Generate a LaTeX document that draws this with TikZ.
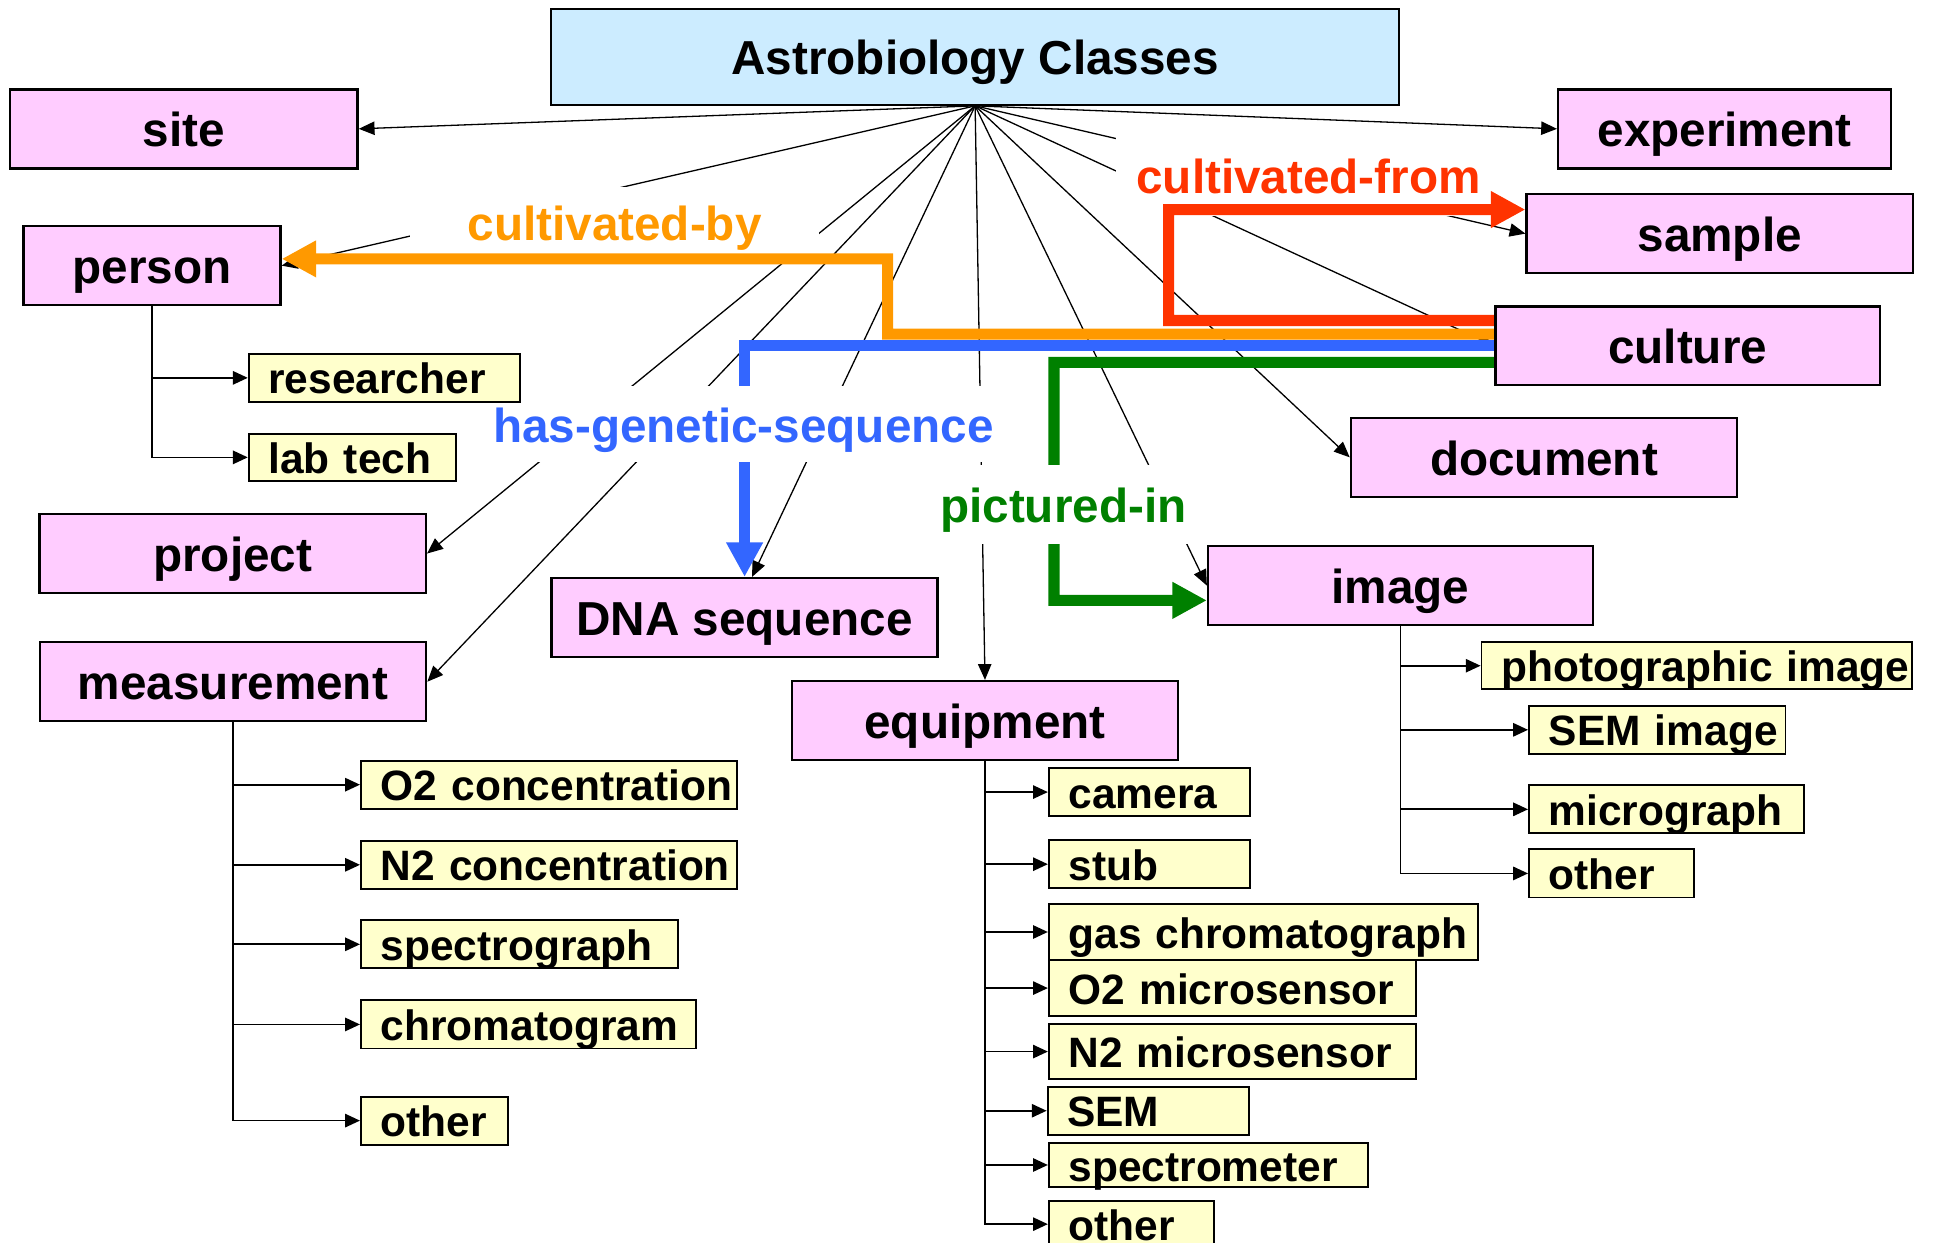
\documentclass[tikz,border=0pt]{standalone}
\usepackage{fontspec}
\setmainfont{Liberation Sans}
\usetikzlibrary{arrows.meta}

\definecolor{classPink}{RGB}{255, 204, 255}
\definecolor{titleBlue}{RGB}{204, 236, 255}
\definecolor{subYellow}{RGB}{255, 255, 204}
\definecolor{linkOrange}{RGB}{255, 153, 0}
\definecolor{linkRed}{RGB}{255, 51, 0}
\definecolor{linkBlue}{RGB}{51, 102, 255}
\definecolor{linkGreen}{RGB}{0, 128, 0}

\newcommand{\classtextfont}{\fontsize{27.5}{33}\selectfont\bfseries}
\newcommand{\subtextfont}{\fontsize{24.5}{29}\selectfont\bfseries}

\pgfdeclarelayer{background}
\pgfsetlayers{background,main}

\tikzset{
    classbox/.style={draw, line width=1.4pt, fill=classPink, inner sep=0pt,
        minimum width=7.83cm, minimum height=1.6cm,
        text height=0.72cm, text depth=0pt, font=\classtextfont},
    titlebox/.style={classbox, fill=titleBlue, line width=1.2pt,
        minimum width=17.18cm, minimum height=1.95cm},
    subbox/.style={draw, line width=1.1pt, fill=subYellow, inner sep=0pt,
        anchor=west, align=left, minimum height=0.975cm,
        text height=0.65cm, text depth=0pt, font=\subtextfont,
        execute at begin node={\noindent\hspace*{0.4cm}}},
    rellabel/.style={fill=white, inner sep=0pt, text height=0.74cm,
        text depth=0pt, font=\classtextfont},
    fanline/.style={line width=0.75pt, -{Triangle[length=0.32cm, width=0.27cm]}},
    treeline/.style={line width=1pt, -{Triangle[length=0.3cm, width=0.27cm]}},
    relation/.style={line width=0.225cm, -{Triangle[length=0.7cm, width=0.7cm]}}
}

\begin{document}
\begin{tikzpicture}[x=0.025cm, y=-0.025cm]
    \useasboundingbox (0,0) rectangle (1568,1008);

    % classes
    \node[titlebox] (title) at (791,46) {Astrobiology Classes};
    \node[classbox, minimum width=7.05cm] (site) at (149,104.5) {site};
    \node[classbox, minimum width=6.75cm] (experiment) at (1399,104.5) {experiment};
    \node[classbox, minimum width=5.21cm] (person) at (123.3,215.5) {person};
    \node[classbox] (sample) at (1395,189.5) {sample};
    \node[classbox, minimum width=7.8cm] (culture) at (1369,280.5) {culture};
    \node[classbox] (document) at (1252.5,371) {document};
    \node[classbox] (project) at (188.8,449) {project};
    \node[classbox] (dna) at (604,501) {DNA sequence};
    \node[classbox, minimum width=7.8cm] (image) at (1136,475) {image};
    \node[classbox] (measurement) at (189,553) {measurement};
    \node[classbox] (equipment) at (799,584.5) {equipment};

    % subclasses
    \node[subbox, text width=5.5cm] (researcher) at (201,306.5) {researcher};
    \node[subbox, text width=4.2cm, minimum height=0.95cm] (labtech) at (201,371) {lab tech};

    \node[subbox, text width=7.63cm] (o2conc) at (292,636.5) {O2 concentration};
    \node[subbox, text width=7.63cm] (n2conc) at (292,701.5) {N2 concentration};
    \node[subbox, text width=6.43cm] (spectrograph) at (292,766) {spectrograph};
    \node[subbox, text width=6.8cm] (chromatogram) at (292,831) {chromatogram};
    \node[subbox, text width=2.98cm] (measother) at (292,909) {other};

    \node[subbox, text width=4.08cm] (camera) at (850,642.5) {camera};
    \node[subbox, text width=4.08cm] (stub) at (850,701) {stub};
    \node[subbox, text width=8.7cm, minimum height=1.125cm] (gaschrom) at (850,756) {gas chromatograph};
    \node[subbox, text width=7.45cm, minimum height=1.125cm] (o2micro) at (850,801.5) {O2 microsensor};
    \node[subbox, text width=7.45cm, minimum height=1.125cm] (n2micro) at (850,853) {N2 microsensor};
    \node[subbox, text width=4.08cm] (sem) at (849,901) {SEM};
    \node[subbox, text width=6.48cm, minimum height=0.875cm] (spectrometer) at (850,945) {spectrometer};
    \node[subbox, text width=3.35cm, minimum height=0.95cm] (equipother) at (850,993) {other};

    \node[subbox, text width=8.73cm, minimum height=0.95cm] (photo) at (1201,540) {photographic image};
    \node[subbox, text width=5.2cm] (semimage) at (1239.5,592) {SEM image};
    \node[subbox, text width=5.58cm] (micrograph) at (1239.5,656.5) {micrograph};
    \node[subbox, text width=3.35cm] (imageother) at (1239.5,708.5) {other};

    \begin{pgfonlayer}{background}
        % fan from the title
        \draw[fanline] (title.south) -- (site.east);
        \draw[fanline] (title.south) -- (person.east);
        \draw[fanline] (title.south) -- (project.east);
        \draw[fanline] (title.south) -- (measurement.east);
        \draw[fanline] (title.south) -- ([xshift=0.15cm]dna.north);
        \draw[fanline] (title.south) -- (equipment.north);
        \draw[fanline] (title.south) -- (image.west);
        \draw[fanline] (title.south) -- (document.west);
        \draw[fanline] (title.south) -- (culture.west);
        \draw[fanline] (title.south) -- (sample.west);
        \draw[fanline] (title.south) -- (experiment.west);

        % subclass trees
        \draw[treeline] (person.south) |- (researcher.west);
        \draw[treeline] (person.south) |- (labtech.west);

        \draw[treeline] (measurement.south) |- (o2conc.west);
        \draw[treeline] (measurement.south) |- (n2conc.west);
        \draw[treeline] (measurement.south) |- (spectrograph.west);
        \draw[treeline] (measurement.south) |- (chromatogram.west);
        \draw[treeline] (measurement.south) |- (measother.west);

        \draw[treeline] (equipment.south) |- (camera.west);
        \draw[treeline] (equipment.south) |- (stub.west);
        \draw[treeline] (equipment.south) |- (gaschrom.west);
        \draw[treeline] (equipment.south) |- (o2micro.west);
        \draw[treeline] (equipment.south) |- (n2micro.west);
        \draw[treeline] (equipment.south) |- (sem.west);
        \draw[treeline] (equipment.south) |- (spectrometer.west);
        \draw[treeline] (equipment.south) |- (equipother.west);

        \draw[treeline] (image.south) |- (photo.west);
        \draw[treeline] (image.south) |- (semimage.west);
        \draw[treeline] (image.south) |- (micrograph.west);
        \draw[treeline] (image.south) |- (imageother.west);

        % relations from culture
        \draw[relation, linkBlue] (culture.west) -| (dna.north);
        \draw[relation, linkGreen] ([yshift=-0.3375cm]culture.west) -| (855,487)
            -- ([yshift=-0.3cm]image.west);

        \node[rellabel, text=linkOrange, minimum width=8.28cm, minimum height=1.43cm]
            (cultby) at (498.5,180) {cultivated-by};
        \node[rellabel, text=linkRed, minimum width=7.83cm, minimum height=1.68cm]
            (cultfrom) at (1061.5,142) {cultivated-from};
        \node[rellabel, text=linkBlue, minimum width=10.6cm, minimum height=1.55cm]
            (hasseq) at (603,344) {has-genetic-sequence};
        \node[rellabel, text=linkGreen, minimum width=5.63cm, minimum height=1.6cm]
            (picin) at (862.5,409) {pictured-in};

        \draw[relation, linkOrange] ([yshift=0.2375cm]culture.west) -| (720,210)
            -- ([yshift=0.1375cm]person.east);
        \draw[relation, linkRed] ([yshift=0.5125cm]culture.west) -| (948,170)
            -- ([yshift=0.4875cm]sample.west);
    \end{pgfonlayer}
\end{tikzpicture}
\end{document}
